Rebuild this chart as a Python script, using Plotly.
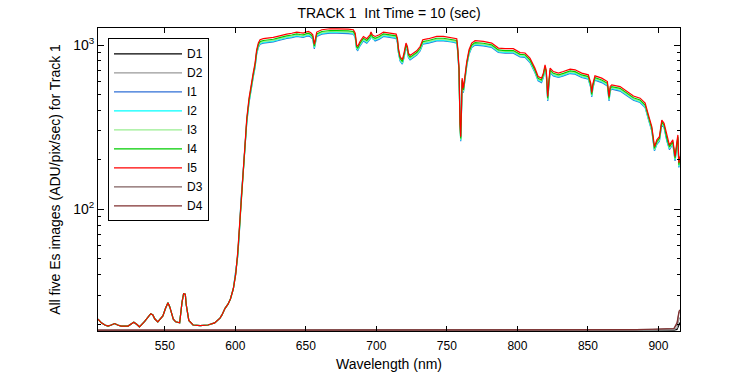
import plotly.graph_objects as go
import math

# ---------------- data ----------------
# shared low-signal part (all five Es curves coincide here)
wl_low = [502.6, 505, 507.5, 509.7, 512, 514.4, 516.5, 519, 523.9, 526, 528, 530, 532,
          535.7, 538, 540, 541.5, 542.8, 545, 548.6, 550.5, 552.2, 553.5, 554.6, 556,
          557.7, 560.5, 562.2, 563.3, 564.5, 565.2, 567, 570, 575, 580.6, 585.3, 589.1,
          590.5, 592.7, 594.8, 596.5, 598.6, 599.5, 600.3]
es_low = [21.5, 20.4, 19.8, 19.5, 19.8, 20.2, 19.8, 19.5, 19.5, 20.0, 20.6, 20.0, 19.3,
          20.8, 22.0, 23.2, 22.8, 21.6, 20.7, 22.5, 25.0, 27.0, 25.5, 23.2, 21.5,
          20.7, 20.4, 27.3, 30.7, 30.5, 26.2, 21.1, 19.8, 19.6, 19.8, 20.4, 21.8,
          22.8, 25.0, 26.5, 28.5, 33.0, 37.0, 40.7]

wl_high = [601.7, 602.8, 604.0, 605.7, 606.9, 608.1, 609.7, 611.1, 612.7, 614.0,
           615.1, 616.3, 617.5, 619.8, 623, 626.9, 630, 633, 636.4, 640,
           643.5, 646, 648.2, 650, 651.8, 653.5, 654.9, 656.0, 656.8, 657.7,
           661.3, 664, 667.1, 672, 676.6, 680, 683.7, 685, 686, 686.8,
           688.4, 690.8, 693.2, 695.5, 696.2, 697.2, 699.1, 702.1, 705, 709.7,
           712, 714, 714.9, 715.6, 716.8, 718.4, 719.6, 721, 722, 722.7,
           723.9, 726.2, 728.6, 731, 732.9, 736.9, 740, 742.8, 747.5, 750.5,
           753.5, 757, 757.7, 758.6, 759.3, 759.8, 760.3, 760.8, 761.7, 762.9,
           764.1, 765.7, 767.6, 770, 775.9, 781.8, 784, 786.5, 791.3, 797.1,
           801.9, 805.4, 808.9, 812.4, 814.7, 817.1, 818.5, 819.6, 820.5, 821.5,
           822.3, 823.2, 825.5, 829.1, 832.6, 837.4, 840.9, 845.6, 850.3, 852,
           852.7, 853.5, 855, 859.8, 863.8, 865, 865.8, 866.9, 872.8, 877.5,
           882.3, 887, 890.6, 892.9, 895.3, 897.2, 898.9, 900.7, 902.4, 904,
           906, 907.8, 910.2, 911.8, 913, 913.8, 914.5, 915.3]

i5_high = [55, 76, 120, 186, 271, 359, 475, 573, 680, 780,
           935, 1030, 1077, 1093, 1100, 1113, 1130, 1150, 1166, 1180,
           1200, 1190, 1183, 1200, 1210, 1190, 1155, 1010, 1080, 1200,
           1240, 1250, 1257, 1255, 1257, 1250, 1240, 1180, 1000, 985,
           1052, 1128, 1093, 1155, 1200, 1150, 1128, 1155, 1200, 1183,
           1180, 1166, 1103, 959, 852, 814, 894, 1028, 980, 894,
           865, 894, 923, 980, 1077, 1093, 1110, 1128, 1128, 1120,
           1113, 1093, 959, 724, 334, 277, 400, 629, 547, 659,
           794, 936, 1028, 1063, 1052, 1028, 1000, 959, 950, 950,
           900, 895, 833, 724, 644, 629, 680, 758, 700, 486,
           600, 724, 690, 675, 690, 714, 707, 675, 659, 586,
           514, 580, 650, 629, 600, 486, 560, 573, 559, 522,
           490, 475, 443, 376, 319, 241, 265, 277, 350, 334,
           277, 246, 265, 210, 254, 284, 192, 210]

i4_high = [54, 74, 117, 181, 264, 350, 463, 559, 663, 761,
           912, 1004, 1050, 1066, 1073, 1085, 1102, 1121, 1137, 1151,
           1170, 1160, 1153, 1170, 1180, 1160, 1126, 985, 1053, 1170,
           1209, 1219, 1226, 1224, 1226, 1219, 1209, 1151, 975, 960,
           1026, 1100, 1066, 1126, 1170, 1121, 1100, 1126, 1170, 1153,
           1151, 1137, 1075, 935, 831, 794, 872, 1002, 956, 872,
           843, 872, 900, 956, 1050, 1066, 1082, 1100, 1100, 1092,
           1085, 1066, 935, 706, 326, 270, 390, 613, 533, 643,
           774, 913, 1002, 1036, 1026, 1002, 975, 935, 926, 926,
           878, 873, 812, 706, 628, 613, 663, 739, 683, 474,
           585, 706, 673, 658, 673, 696, 689, 658, 643, 571,
           501, 566, 634, 613, 585, 474, 546, 559, 545, 509,
           478, 463, 432, 367, 311, 235, 258, 270, 341, 326,
           270, 240, 258, 205, 248, 277, 187, 205]

i3_high = [53, 73, 115, 179, 260, 345, 456, 550, 653, 749,
           898, 989, 1034, 1049, 1056, 1068, 1085, 1104, 1119, 1133,
           1152, 1142, 1136, 1152, 1162, 1142, 1109, 970, 1037, 1152,
           1190, 1200, 1207, 1205, 1207, 1200, 1190, 1133, 960, 946,
           1010, 1083, 1049, 1109, 1152, 1104, 1083, 1109, 1152, 1136,
           1133, 1119, 1059, 921, 818, 781, 858, 987, 941, 858,
           830, 858, 886, 941, 1034, 1049, 1066, 1083, 1083, 1075,
           1068, 1049, 921, 695, 321, 266, 384, 604, 525, 633,
           762, 899, 987, 1020, 1010, 987, 960, 921, 912, 912,
           864, 859, 800, 695, 618, 604, 653, 728, 672, 467,
           576, 695, 662, 648, 662, 685, 679, 648, 633, 563,
           493, 557, 624, 604, 576, 467, 538, 550, 537, 501,
           470, 456, 425, 361, 306, 231, 254, 266, 336, 321,
           266, 236, 254, 202, 244, 273, 184, 202]

i2_high = [52, 72, 114, 177, 257, 341, 451, 544, 646, 741,
           888, 979, 1023, 1038, 1045, 1057, 1074, 1093, 1108, 1121,
           1140, 1131, 1124, 1140, 1150, 1131, 1097, 960, 1026, 1140,
           1178, 1188, 1194, 1192, 1194, 1188, 1178, 1121, 950, 936,
           999, 1072, 1038, 1097, 1140, 1093, 1072, 1097, 1140, 1124,
           1121, 1108, 1048, 911, 809, 773, 849, 977, 931, 849,
           822, 849, 877, 931, 1023, 1038, 1055, 1072, 1072, 1064,
           1057, 1038, 911, 688, 317, 263, 380, 598, 520, 626,
           754, 889, 977, 1010, 999, 977, 950, 911, 903, 903,
           855, 850, 791, 688, 612, 598, 646, 720, 665, 462,
           570, 688, 656, 641, 656, 678, 672, 641, 626, 557,
           488, 551, 618, 598, 570, 462, 532, 544, 531, 496,
           466, 451, 421, 357, 303, 229, 252, 263, 333, 317,
           263, 234, 252, 200, 241, 270, 182, 200]

i1_high = [52, 71, 113, 175, 255, 337, 447, 539, 639, 733,
           879, 968, 1012, 1027, 1034, 1046, 1062, 1081, 1096, 1109,
           1128, 1119, 1112, 1128, 1137, 1119, 1086, 949, 1015, 1128,
           1166, 1175, 1182, 1180, 1182, 1175, 1166, 1109, 940, 926,
           989, 1060, 1027, 1086, 1128, 1112, 1060, 1086, 1128, 1112,
           1109, 1096, 1037, 901, 801, 765, 840, 966, 921, 840,
           813, 840, 868, 921, 1012, 1027, 1043, 1060, 1060, 1053,
           1046, 1027, 901, 681, 314, 260, 376, 591, 514, 619,
           746, 880, 966, 999, 989, 966, 940, 901, 893, 893,
           846, 841, 783, 681, 605, 591, 639, 713, 658, 457,
           564, 681, 649, 635, 649, 671, 665, 635, 619, 551,
           483, 545, 611, 591, 564, 457, 526, 539, 525, 491,
           461, 447, 416, 353, 300, 227, 249, 260, 329, 314,
           260, 231, 249, 197, 239, 267, 180, 197]

# dark frames (sit on the bottom of the log axis)
wl_dark = [502.6, 540, 580, 620, 660, 700, 740, 780, 820, 860, 884, 896, 906, 911,
           913.2, 914, 914.6, 915.3]
d1 = [18.3, 18.3, 18.3, 18.3, 18.3, 18.3, 18.3, 18.3, 18.3, 18.3, 18.3, 18.35, 18.4,
      18.45, 18.6, 19.5, 20.0, 20.5]
d2 = [18.35, 18.35, 18.3, 18.35, 18.35, 18.3, 18.35, 18.35, 18.35, 18.35, 18.4, 18.45,
      18.5, 18.55, 19.0, 20.5, 21.5, 22.0]
d3 = [18.4, 18.4, 18.4, 18.4, 18.4, 18.4, 18.4, 18.4, 18.4, 18.45, 18.55, 18.65, 18.75,
      18.8, 20.0, 22.5, 23.5, 24.0]
d4 = [18.4, 18.4, 18.4, 18.45, 18.4, 18.4, 18.4, 18.4, 18.45, 18.45, 18.55, 18.65, 18.75,
      18.85, 20.5, 23.0, 24.0, 24.5]

x_ticks = [550, 600, 650, 700, 750, 800, 850, 900]
y_major = [100, 1000]
y_major_text = ["10<sup>2</sup>", "10<sup>3</sup>"]
y_minor = [20, 30, 40, 50, 60, 70, 80, 90, 200, 300, 400, 500, 600, 700, 800, 900]

# ---------------- figure ----------------
wl = wl_low + wl_high
series = [
    ("D1", wl_dark, d1, "#000000"),
    ("D2", wl_dark, d2, "#999999"),
    ("I1", wl, es_low + i1_high, "#2f6fd6"),
    ("I2", wl, es_low + i2_high, "#00ffff"),
    ("I3", wl, es_low + i3_high, "#99ee90"),
    ("I4", wl, es_low + i4_high, "#00cc00"),
    ("I5", wl, es_low + i5_high, "#ff0000"),
    ("D3", wl_dark, d3, "#806060"),
    ("D4", wl_dark, d4, "#803030"),
]

fig = go.Figure()
for name, xs, ys, col in series:
    assert len(xs) == len(ys), name
    fig.add_trace(go.Scatter(x=xs, y=ys, mode="lines", name=name,
                             line=dict(color=col, width=1.2)))

font_family = "Liberation Sans, Arial, Helvetica, sans-serif"
fig.update_layout(
    template="none",
    width=750, height=375,
    margin=dict(l=98, r=70, t=28, b=44, autoexpand=False),
    paper_bgcolor="white", plot_bgcolor="white",
    font=dict(family=font_family, size=12, color="black"),
    title=dict(text="TRACK 1  Int Time = 10 (sec)", x=0.5187, xanchor="center",
               y=0.965, yanchor="middle", yref="container",
               font=dict(size=14, color="black")),
    showlegend=True,
    legend=dict(x=0.0172, y=0.966, xanchor="left", yanchor="top",
                bgcolor="white", bordercolor="black", borderwidth=1,
                font=dict(size=12, color="black"), itemwidth=68,
                tracegroupgap=0),
)
fig.update_xaxes(
    range=[502.6, 915.3], tickmode="array", tickvals=x_ticks,
    ticks="inside", ticklen=5, tickcolor="black", tickwidth=1,
    showline=True, linecolor="black", linewidth=1, mirror="ticks",
    showgrid=False, zeroline=False, automargin=False,
    tickfont=dict(size=12), ticklabelstandoff=4,
    title=dict(text="Wavelength (nm)", font=dict(size=14), standoff=6),
)
fig.update_yaxes(
    type="log", range=[math.log10(18.2), math.log10(1270)],
    tickmode="array", tickvals=y_major, ticktext=y_major_text,
    ticks="inside", ticklen=6, tickcolor="black", tickwidth=1,
    minor=dict(tickmode="array", tickvals=y_minor, ticks="inside", ticklen=3,
               tickcolor="black", tickwidth=1, showgrid=False),
    showline=True, linecolor="black", linewidth=1, mirror="ticks",
    showgrid=False, zeroline=False, automargin=False,
    tickfont=dict(size=14),
    title=dict(text="All five Es images (ADU/pix/sec) for Track 1",
               font=dict(size=14), standoff=9),
)

fig.write_html("out.html", config={"displayModeBar": False},
               post_script="document.body.style.margin='0px';document.body.style.padding='0px';")
